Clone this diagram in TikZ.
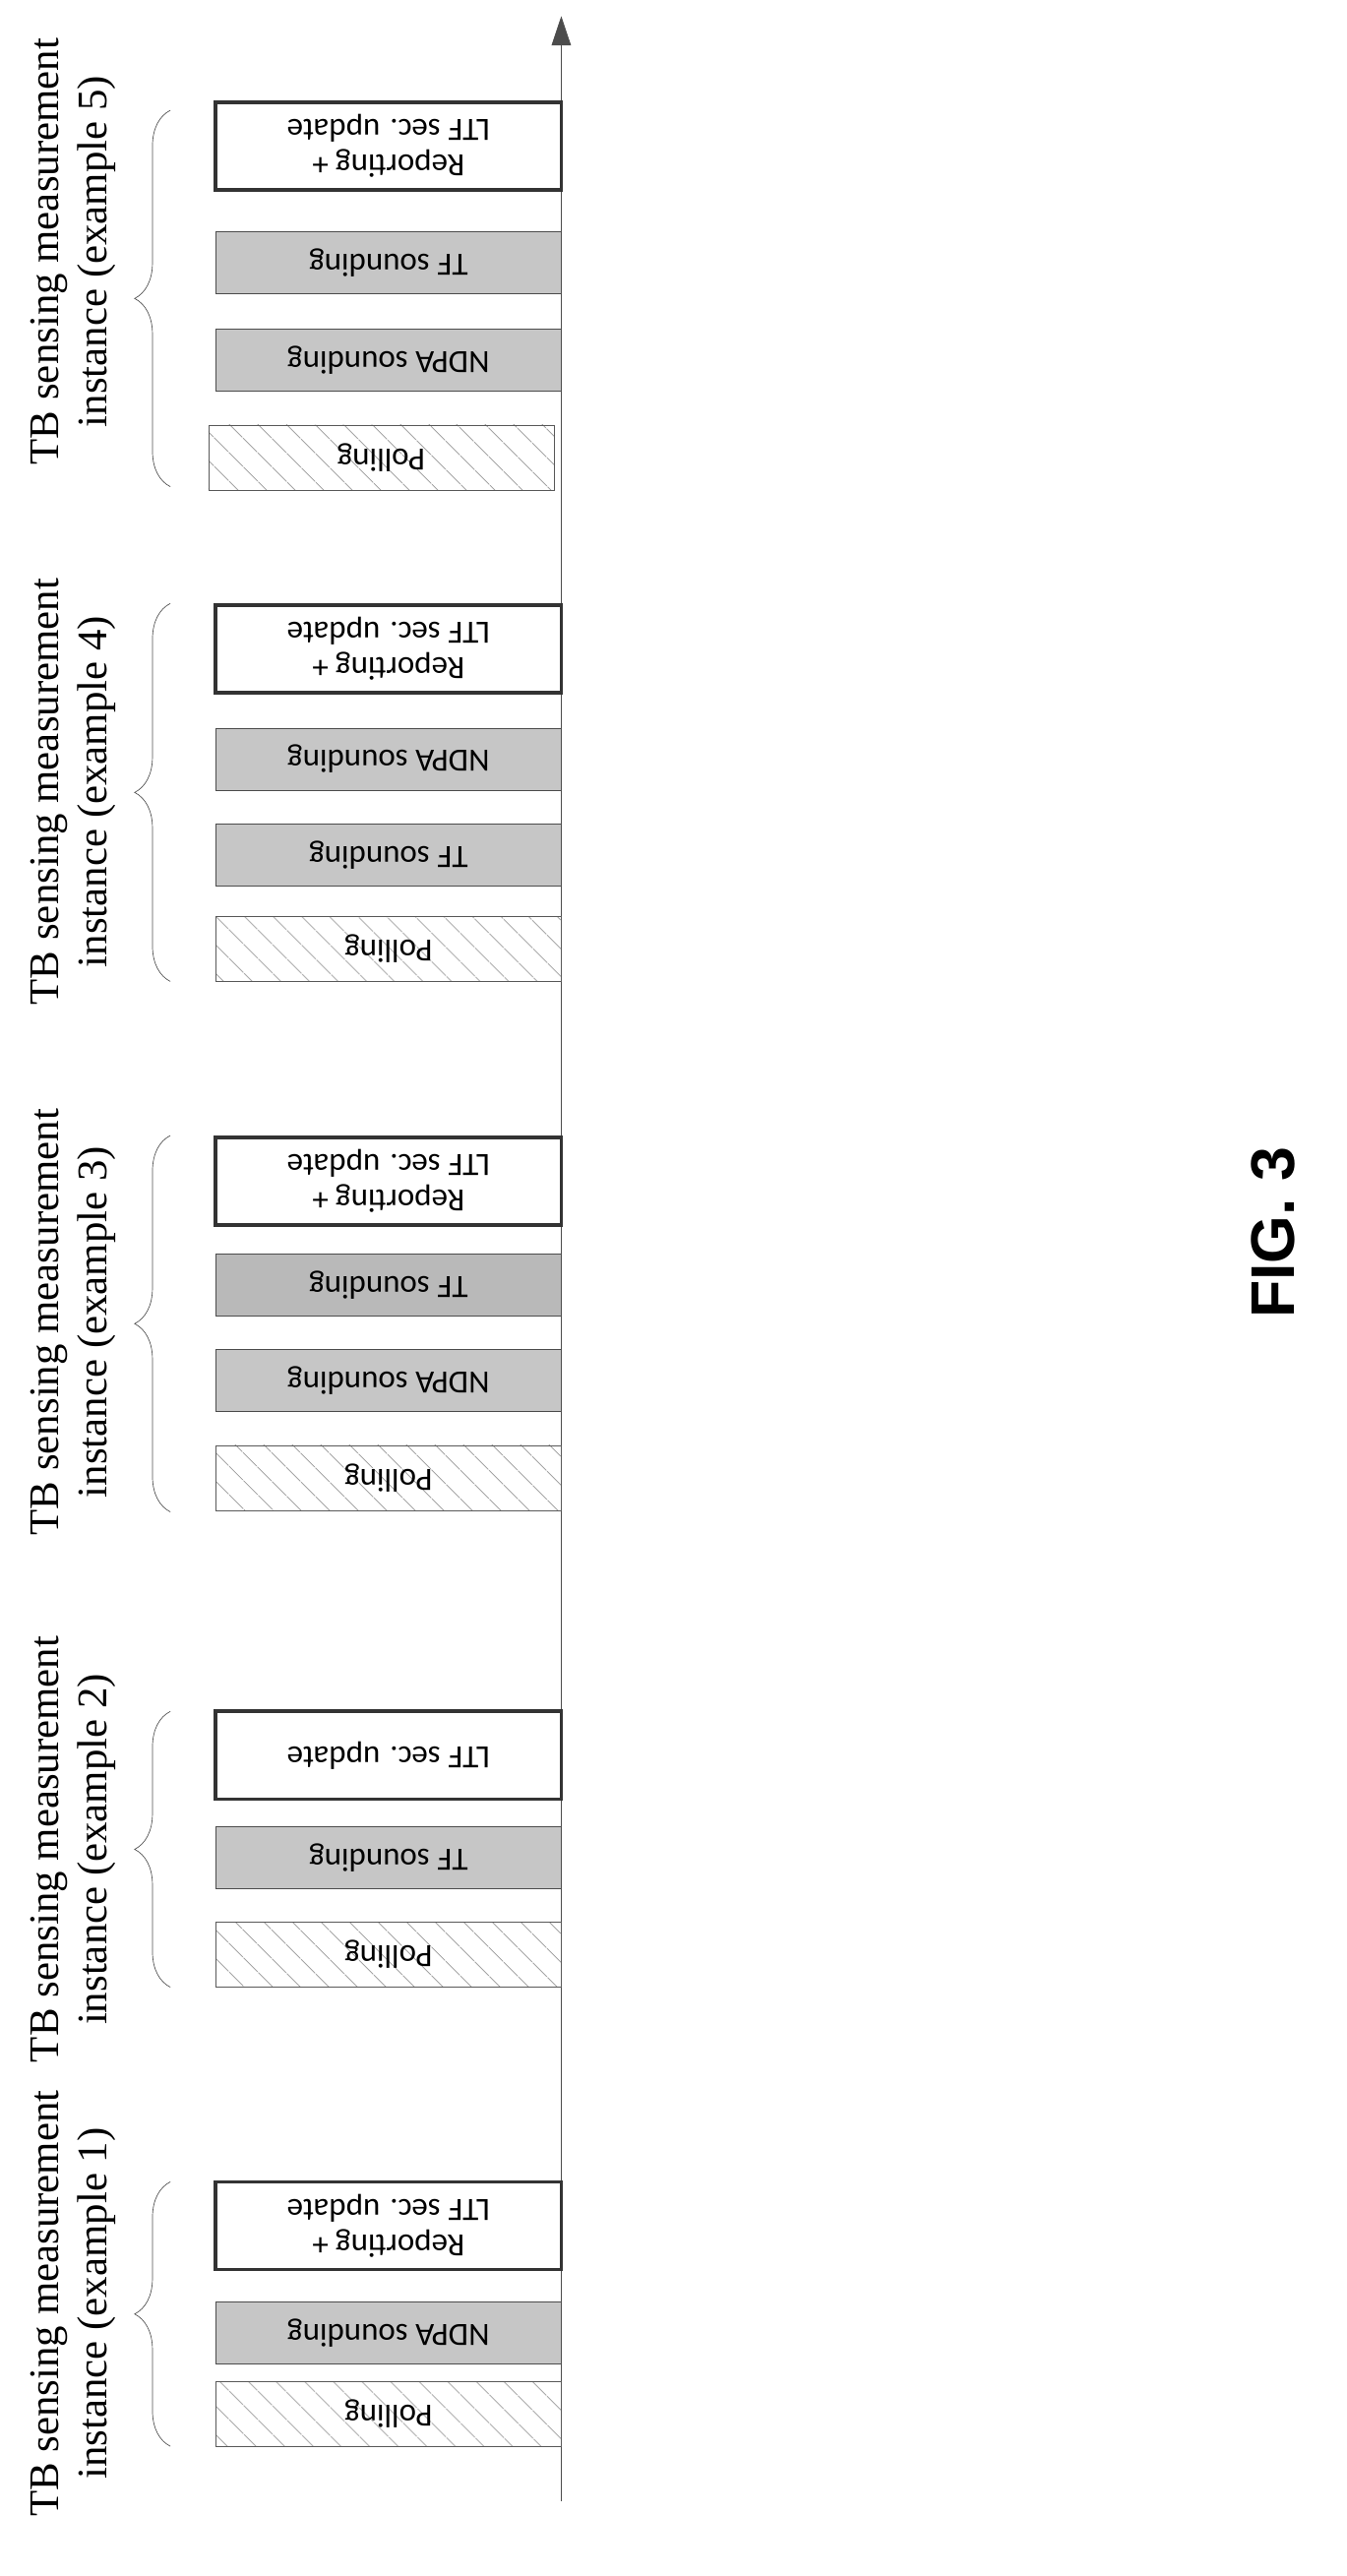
\documentclass[tikz,border=0pt]{standalone}
\usepackage{fontspec}
\setmainfont{Liberation Serif}
\newfontfamily\boxfont{Carlito}
\newfontfamily\figfont{Liberation Sans}
\usetikzlibrary{arrows.meta,patterns.meta,decorations.pathreplacing,positioning}

\begin{document}
\begin{tikzpicture}[x=1pt,y=-1pt,
		frame/.style = {rotate=180, minimum width=213pt, inner sep=1pt,
				align=center, font=\boxfont\fontsize{20}{22}\selectfont},
		poll/.style  = {frame, draw=gray!70!black, minimum height=40pt,
				pattern={Lines[angle=-45,distance=13pt,line width=0.6pt]}, pattern color=gray!70},
		sound/.style = {frame, draw=gray!60!black, fill=gray!45, minimum height=38pt},
		report/.style = {frame, draw=black!80, line width=2.2pt, fill=white, minimum height=54pt},
		brc/.style   = {decorate, decoration={brace, amplitude=22pt}, gray!60!black, thin},
		lbl/.style   = {rotate=90, align=center, font=\fontsize{26}{30}\selectfont}
	]
	\useasboundingbox (0,0) rectangle (830,1588);
	% time axis
	\coordinate (tbot) at (346,1542);
	\coordinate (ttop) at (346,10);
	\draw [gray!60!black, -{Triangle[length=18pt,width=12pt]}] (tbot) -- (ttop);

	% example 5
	\node [report] (r5) at (239.5,90) {Reporting +\\LTF sec. update};
	\node [sound] (tf5) at (239.5,162) {TF sounding};
	\node [sound] (nd5) at (239.5,222) {NDPA sounding};
	\node [poll] (p5) at (235,282) {Polling};
	\draw [brc] (105,300) -- (105,68);
	\node [lbl] (l5) at (45,155) {TB sensing measurement\\instance (example 5)};

	% example 4
	\node [report] (r4) at (239.5,400) {Reporting +\\LTF sec. update};
	\node [sound] (nd4) at (239.5,468) {NDPA sounding};
	\node [sound] (tf4) at (239.5,527) {TF sounding};
	\node [poll] (p4) at (239.5,585) {Polling};
	\draw [brc] (105,605) -- (105,372);
	\node [lbl] (l4) at (45,488) {TB sensing measurement\\instance (example 4)};

	% example 3
	\node [report] (r3) at (239.5,728) {Reporting +\\LTF sec. update};
	\node [sound, fill=gray!55] (tf3) at (239.5,792) {TF sounding};
	\node [sound] (nd3) at (239.5,851) {NDPA sounding};
	\node [poll] (p3) at (239.5,911) {Polling};
	\draw [brc] (105,932) -- (105,700);
	\node [lbl] (l3) at (45,815) {TB sensing measurement\\instance (example 3)};

	% example 2
	\node [report] (r2) at (239.5,1082) {LTF sec. update};
	\node [sound] (tf2) at (239.5,1145) {TF sounding};
	\node [poll] (p2) at (239.5,1205) {Polling};
	\draw [brc] (105,1225) -- (105,1055);
	\node [lbl] (l2) at (45,1140) {TB sensing measurement\\instance (example 2)};

	% example 1
	\node [report] (r1) at (239.5,1372) {Reporting +\\LTF sec. update};
	\node [sound] (nd1) at (239.5,1438) {NDPA sounding};
	\node [poll] (p1) at (239.5,1488) {Polling};
	\draw [brc] (105,1508) -- (105,1345);
	\node [lbl] (l1) at (45,1420) {TB sensing measurement\\instance (example 1)};

	\node [rotate=90, font=\figfont\bfseries\fontsize{38}{40}\selectfont] (fig) at (785,760) {FIG. 3};
\end{tikzpicture}
\end{document}
